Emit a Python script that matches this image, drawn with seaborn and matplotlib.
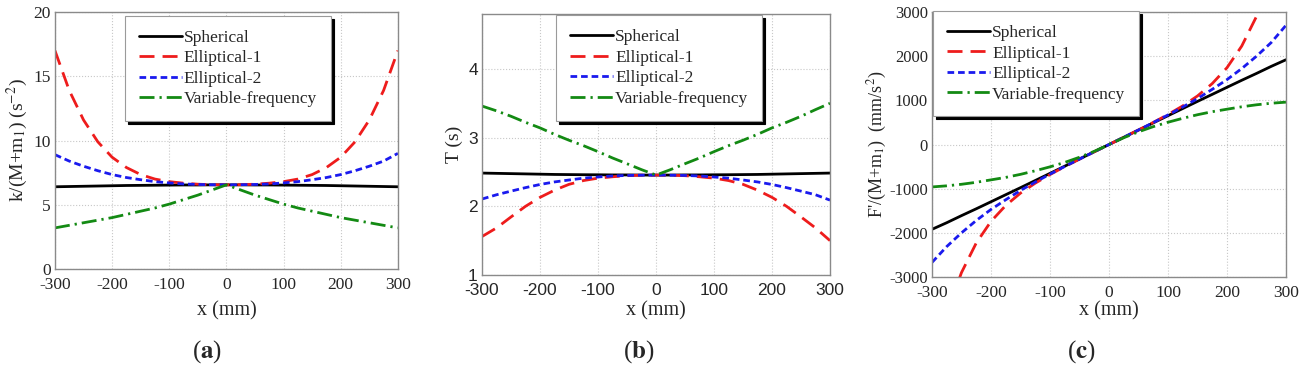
import numpy as np
import pandas as pd
import matplotlib
matplotlib.use("Agg")
import matplotlib.pyplot as plt
import seaborn as sns

# Data
x_mm = [-300, -275, -250, -225, -200, -175, -150, -125, -100, -75, -50, -25, 0,
        25, 50, 75, 100, 125, 150, 175, 200, 225, 250, 275, 300]

# (a) k/(M+m1)
k_spherical = [6.40, 6.42, 6.44, 6.46, 6.48, 6.50, 6.51, 6.52, 6.53, 6.54, 6.54, 6.55, 6.55,
               6.55, 6.54, 6.54, 6.53, 6.52, 6.51, 6.50, 6.48, 6.46, 6.44, 6.42, 6.40]
k_ellip1 = [17.0, 13.9, 11.6, 9.9, 8.7, 7.9, 7.35, 7.0, 6.8, 6.68, 6.6, 6.56, 6.55,
            6.56, 6.6, 6.68, 6.8, 7.0, 7.35, 7.9, 8.7, 9.9, 11.6, 13.9, 17.0]
k_ellip2 = [8.9, 8.4, 8.0, 7.65, 7.35, 7.12, 6.95, 6.8, 6.7, 6.62, 6.58, 6.56, 6.55,
            6.56, 6.58, 6.62, 6.7, 6.8, 6.95, 7.12, 7.35, 7.65, 8.0, 8.4, 9.0]
k_varfreq = [3.2, 3.4, 3.6, 3.8, 4.0, 4.25, 4.5, 4.75, 5.05, 5.4, 5.75, 6.15, 6.55,
             6.15, 5.75, 5.4, 5.05, 4.75, 4.5, 4.25, 4.0, 3.8, 3.6, 3.4, 3.2]

# (b) T (s)
T_spherical = [2.484, 2.480, 2.476, 2.472, 2.468, 2.464, 2.462, 2.460, 2.459, 2.457, 2.457, 2.455, 2.455,
               2.455, 2.457, 2.457, 2.459, 2.460, 2.462, 2.464, 2.468, 2.472, 2.476, 2.480, 2.484]
T_ellip1 = [1.56, 1.685, 1.845, 2.0, 2.13, 2.235, 2.32, 2.375, 2.41, 2.43, 2.446, 2.453, 2.455,
            2.453, 2.446, 2.43, 2.41, 2.375, 2.32, 2.235, 2.13, 2.0, 1.845, 1.685, 1.50]
T_ellip2 = [2.106, 2.168, 2.221, 2.272, 2.318, 2.355, 2.383, 2.41, 2.427, 2.442, 2.449, 2.453, 2.455,
            2.453, 2.449, 2.442, 2.427, 2.41, 2.383, 2.355, 2.318, 2.272, 2.221, 2.168, 2.09]
T_varfreq = [3.46, 3.39, 3.311, 3.223, 3.142, 3.048, 2.962, 2.883, 2.796, 2.704, 2.620, 2.534, 2.455,
             2.534, 2.620, 2.704, 2.796, 2.883, 2.962, 3.048, 3.142, 3.223, 3.311, 3.408, 3.50]

# (c) F'/(M+m1)
F_spherical = [-1920, -1770, -1610, -1455, -1296, -1136, -977, -815, -653, -490, -327, -164, 0,
               164, 327, 490, 653, 815, 977, 1136, 1296, 1455, 1610, 1770, 1920]
F_ellip1 = [-5100, -3820, -2900, -2230, -1740, -1380, -1100, -875, -680, -500, -330, -164, 0,
            164, 330, 500, 680, 875, 1100, 1380, 1740, 2230, 2900, 3820, 5100]
F_ellip2 = [-2670, -2310, -2000, -1720, -1470, -1250, -1040, -850, -670, -497, -329, -164, 0,
            164, 329, 497, 670, 850, 1040, 1250, 1470, 1720, 2000, 2310, 2700]
F_varfreq = [-960, -935, -900, -855, -800, -744, -675, -594, -505, -405, -288, -154, 0,
             154, 288, 405, 505, 594, 675, 744, 800, 855, 900, 935, 960]

series_names = ["Spherical", "Elliptical-1", "Elliptical-2", "Variable-frequency"]
colors = ["black", "#ee1c1c", "#1a1aee", "#138a13"]
styles = ["-", (0, (5.4, 2.9)), (0, (2.4, 1.4)), (0, (5.4, 1.8, 0.8, 1.8))]

sns.set_style("white")
plt.rcParams["font.family"] = ["Liberation Serif", "DejaVu Serif"]
plt.rcParams["mathtext.fontset"] = "stix"
plt.rcParams["axes.unicode_minus"] = False

fig = plt.figure(figsize=(13.02, 3.65), dpi=100)
ax_a = fig.add_axes([0.0422, 0.263, 0.2634, 0.704])
ax_b = fig.add_axes([0.3702, 0.2466, 0.2673, 0.715])
ax_c = fig.add_axes([0.7158, 0.241, 0.2719, 0.726])

# (axes, data, ylim, yticks, ylabel, legend anchor, tag, tag x px, ylabel x px, ylabel size)
panels = [
    (ax_a, [k_spherical, k_ellip1, k_ellip2, k_varfreq], (0, 20), np.arange(0, 21, 5),
     r"k/(M+m$_1$) (s$^{-2}$)", (0.204, 0.985), "a", 207, 17, 14),
    (ax_b, [T_spherical, T_ellip1, T_ellip2, T_varfreq], (1, 4.8), [1, 2, 3, 4],
     "T (s)", (0.213, 0.995), "b", 639, 454, 14),
    (ax_c, [F_spherical, F_ellip1, F_ellip2, F_varfreq], (-3000, 3000), np.arange(-3000, 3001, 1000),
     r"F'/(M+m$_1$)  (mm/s$^2$)", (0.003, 1.004), "c", 1081, 877, 13),
]

W, H = 1302, 365
for ax, ys, ylim, yticks, ylabel, leg_anchor, tag, tag_x, ylab_x, ylab_fs in panels:
    for name, y, c, ls in zip(series_names, ys, colors, styles):
        sns.lineplot(x=x_mm, y=y, color=c, linestyle=ls, linewidth=2.0,
                     label=name, ax=ax, sort=False)
    ax.set_xlim(-300, 300)
    ax.set_ylim(*ylim)
    ax.set_xticks(np.arange(-300, 301, 100))
    ax.set_yticks(yticks)
    ax.grid(True, color="#c8c8c8", linestyle=":", linewidth=0.8)
    for sp in ax.spines.values():
        sp.set_color("#8a8a8a")
        sp.set_linewidth(1.0)
    ax.tick_params(length=0, labelsize=12.5)
    ax.tick_params(axis="x", pad=6)
    ax.tick_params(axis="y", pad=3)
    ax.set_xlabel("x (mm)", fontsize=14.5, va="center")
    ax.xaxis.set_label_coords(ax.get_position().x0 + ax.get_position().width / 2,
                              1 - 311 / H, transform=fig.transFigure)
    ax.set_ylabel(ylabel, fontsize=ylab_fs, va="center")
    ax.yaxis.set_label_coords(ylab_x / W, ax.get_position().y0 + ax.get_position().height / 2,
                              transform=fig.transFigure)
    leg = ax.legend(loc="upper left", bbox_to_anchor=leg_anchor, fontsize=12.5,
                    frameon=True, fancybox=False, framealpha=1,
                    shadow={"shade": 1.0, "alpha": 1.0},
                    handlelength=2.5, handletextpad=0.1, labelspacing=0.25,
                    borderpad=0.8, borderaxespad=0)
    leg.get_frame().set_edgecolor("#9a9a9a")
    leg.get_frame().set_linewidth(0.8)
    fig.text(tag_x / W, 1 - 352 / H, r"($\mathbf{%s}$)" % tag, ha="center", va="center",
             fontsize=18)

# panel (b) uses sans-serif tick labels
for lab in ax_b.get_xticklabels() + ax_b.get_yticklabels():
    lab.set_fontfamily("Liberation Sans")
    lab.set_fontsize(12.5)

# panel (c) tick labels a touch smaller
for lab in ax_c.get_yticklabels():
    lab.set_fontsize(12)

fig.savefig("out.png", dpi=100)
